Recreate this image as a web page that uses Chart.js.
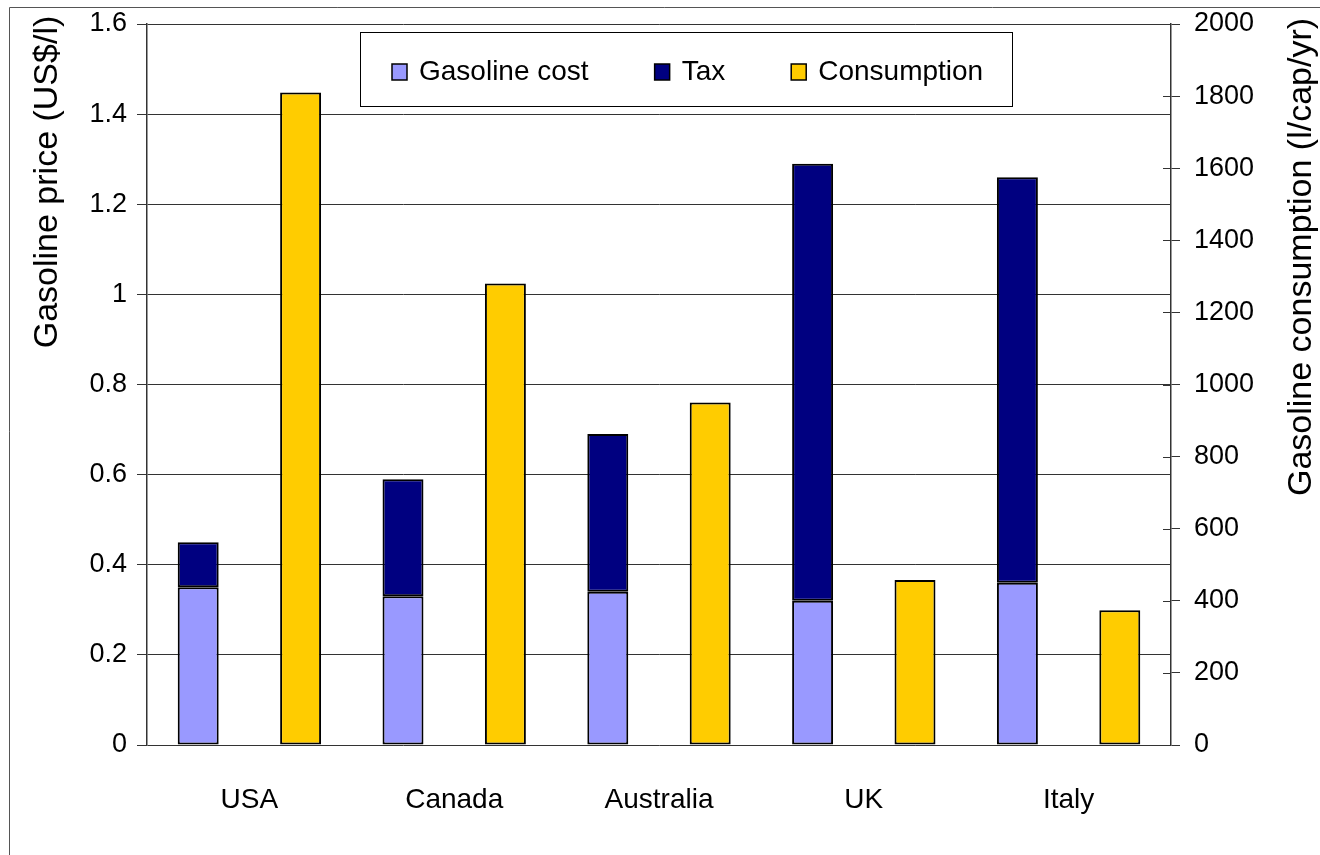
<!DOCTYPE html>
<html>
<head>
<meta charset="utf-8">
<title>Gasoline price and consumption</title>
<script src="https://cdn.jsdelivr.net/npm/chart.js@4/dist/chart.umd.min.js"></script>
<style>
  html, body { margin: 0; padding: 0; background: #fff; }
  canvas { display: block; }
</style>
</head>
<body>
<canvas id="chart" width="1320" height="855"></canvas>
<script>
// Countries compared
const categories = ['USA', 'Canada', 'Australia', 'UK', 'Italy'];
// Pre-tax gasoline cost, US$ per litre
const gasolineCost = [0.35, 0.33, 0.34, 0.32, 0.36];
// Tax component, US$ per litre
const tax = [0.10, 0.26, 0.35, 0.97, 0.90];
// Per-capita gasoline consumption, litres per person per year
const consumption = [1810, 1280, 950, 458, 374];

const seriesNames = ['Gasoline cost', 'Tax', 'Consumption'];
const leftTitle = 'Gasoline price (US$/l)';
const rightTitle = 'Gasoline consumption (l/cap/yr)';

const FONT = '"Liberation Sans", Arial, sans-serif';

// Outer chart frame (top and left edges)
const framePlugin = {
  id: 'frame',
  beforeDraw(chart) {
    const ctx = chart.ctx;
    ctx.save();
    ctx.fillStyle = '#fff';
    ctx.fillRect(0, 0, chart.width, chart.height);
    ctx.strokeStyle = '#555';
    ctx.lineWidth = 1;
    ctx.beginPath();
    ctx.moveTo(9.5, chart.height);
    ctx.lineTo(9.5, 7.5);
    ctx.lineTo(chart.width, 7.5);
    ctx.stroke();
    ctx.restore();
  }
};

// Axis titles (both read bottom-to-top), inner halves of the right-axis ticks, and boxed legend
const decorPlugin = {
  id: 'decor',
  afterDraw(chart) {
    const ctx = chart.ctx;
    ctx.save();

    // right axis ticks cross the axis line
    const r = chart.scales.y2;
    ctx.strokeStyle = '#333';
    ctx.lineWidth = 1;
    r.ticks.forEach((t, i) => {
      const y = Math.round(r.getPixelForTick(i)) + 0.5;
      ctx.beginPath();
      ctx.moveTo(r.left - 8, y);
      ctx.lineTo(r.left, y);
      ctx.stroke();
    });

    // axis titles
    ctx.fillStyle = '#000';
    ctx.font = '34px ' + FONT;
    ctx.textAlign = 'center';
    ctx.textBaseline = 'middle';
    ctx.save();
    ctx.translate(48, 182);
    ctx.rotate(-Math.PI / 2);
    ctx.fillText(leftTitle, 0, 0);
    ctx.restore();
    ctx.save();
    ctx.translate(1302, 257);
    ctx.rotate(-Math.PI / 2);
    ctx.fillText(rightTitle, 0, 0);
    ctx.restore();

    // legend box
    const bx = 360.5, by = 32.5, bw = 652, bh = 74;
    ctx.fillStyle = '#fff';
    ctx.fillRect(bx, by, bw, bh);
    ctx.strokeStyle = '#000';
    ctx.lineWidth = 1;
    ctx.strokeRect(bx, by, bw, bh);

    ctx.font = '28px ' + FONT;
    ctx.textAlign = 'left';
    ctx.textBaseline = 'middle';
    let x = 392;
    const cy = 72;
    chart.data.datasets.forEach((ds) => {
      ctx.fillStyle = ds.backgroundColor;
      ctx.fillRect(x, cy - 8, 15, 16);
      ctx.strokeStyle = '#000';
      ctx.lineWidth = 1.5;
      ctx.strokeRect(x, cy - 8, 15, 16);
      ctx.fillStyle = '#000';
      ctx.fillText(ds.label, x + 27, cy);
      x += 27 + ctx.measureText(ds.label).width + 66;
    });

    ctx.restore();
  }
};

const barCommon = {
  borderColor: '#000',
  borderWidth: 2,
  borderSkipped: false,
  categoryPercentage: 1.0,
  barPercentage: 0.4
};

function fixVertical(width) {
  return function (s) {
    s.width = width;
    s.paddingTop = 0;
    s.paddingBottom = 0;
  };
}

new Chart(document.getElementById('chart'), {
  type: 'bar',
  data: {
    labels: categories,
    datasets: [
      Object.assign({ label: seriesNames[0], data: gasolineCost, backgroundColor: '#9999FF', yAxisID: 'y', stack: 'price' }, barCommon),
      Object.assign({ label: seriesNames[1], data: tax, backgroundColor: '#000080', yAxisID: 'y', stack: 'price' }, barCommon),
      Object.assign({ label: seriesNames[2], data: consumption, backgroundColor: '#FFCC00', yAxisID: 'y2', stack: 'cons' }, barCommon)
    ]
  },
  options: {
    responsive: false,
    animation: false,
    layout: { padding: { top: 24, left: 0, right: 0, bottom: 0 } },
    plugins: {
      legend: { display: false },
      tooltip: { enabled: false },
      title: { display: false }
    },
    scales: {
      x: {
        grid: { display: false, drawTicks: false },
        border: { display: false },
        ticks: { color: '#000', font: { size: 28, family: FONT }, padding: 38, maxRotation: 0 },
        afterFit(s) { s.height = 110; s.paddingLeft = 0; s.paddingRight = 0; }
      },
      y: {
        position: 'left',
        stacked: true,
        min: 0,
        max: 1.6,
        ticks: {
          stepSize: 0.2,
          color: '#000',
          font: { size: 27, family: FONT },
          padding: 10,
          callback: (v) => String(Number(v.toFixed(1)))
        },
        grid: { color: '#333', lineWidth: 1, tickLength: 10 },
        border: { color: '#333', width: 1.5 },
        afterFit: fixVertical(147)
      },
      y2: {
        position: 'right',
        min: 0,
        max: 2000,
        ticks: {
          stepSize: 200,
          color: '#000',
          font: { size: 27, family: FONT },
          padding: 14,
          callback: (v) => String(v)
        },
        grid: { drawOnChartArea: false, color: '#333', lineWidth: 1, tickLength: 9 },
        border: { color: '#333', width: 1.5 },
        afterFit: fixVertical(149)
      }
    }
  },
  plugins: [framePlugin, decorPlugin]
});
</script>
</body>
</html>
